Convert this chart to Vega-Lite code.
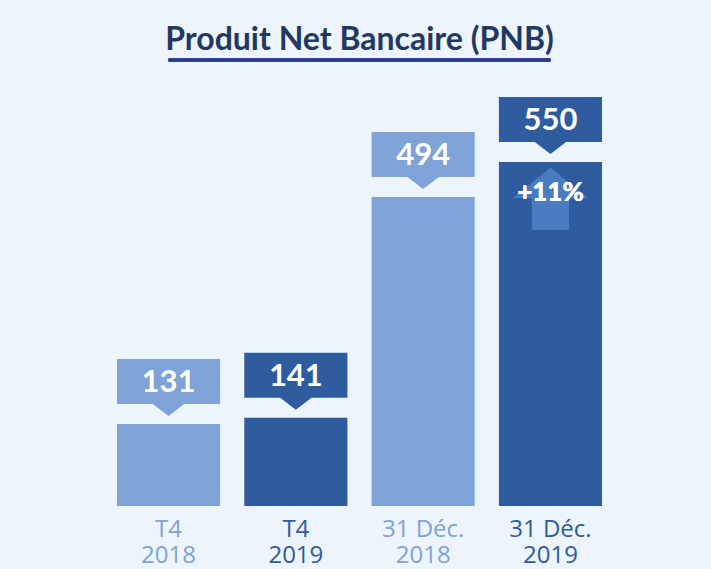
{
  "$schema": "https://vega.github.io/schema/vega-lite/v6.json",
  "width": 485,
  "height": 446,
  "autosize": "none",
  "padding": {"left": 117, "top": 60, "right": 109, "bottom": 63},
  "background": "#EDF4FB",
  "config": {"view": {"stroke": null}},
  "title": {
    "text": "Produit Net Bancaire (PNB)",
    "font": "Lato",
    "fontSize": 32,
    "fontWeight": "bold",
    "color": "#1F3864",
    "anchor": "middle",
    "baseline": "alphabetic",
    "offset": 10,
    "dy": 33
  },
  "data": {
    "values": [
      {"period": "T4 2018", "year": "2018", "value": 131},
      {"period": "T4 2019", "year": "2019", "value": 141},
      {"period": "31 Déc. 2018", "year": "2018", "value": 494},
      {"period": "31 Déc. 2019", "year": "2019", "value": 550}
    ]
  },
  "encoding": {
    "x": {
      "field": "period",
      "type": "nominal",
      "sort": null,
      "scale": {"paddingInner": 0.19, "paddingOuter": 0},
      "axis": {
        "title": null,
        "domain": false,
        "ticks": false,
        "labelAngle": 0,
        "labelFont": "Open Sans",
        "labelFontSize": 24,
        "labelLineHeight": 26,
        "labelPadding": 11,
        "labelExpr": "[substring(datum.label, 0, length(datum.label) - 5), substring(datum.label, length(datum.label) - 4)]",
        "labelColor": {"condition": {"test": "indexof(datum.value, '2018') >= 0", "value": "#7FA3D6"}, "value": "#2E5C9E"}
      }
    }
  },
  "layer": [
    {
      "mark": {"type": "bar"},
      "encoding": {
        "y": {"field": "value", "type": "quantitative", "scale": {"domain": [0, 713], "nice": false}, "axis": null},
        "color": {"field": "year", "type": "nominal", "scale": {"domain": ["2018", "2019"], "range": ["#7FA3D6", "#2E5C9E"]}, "legend": null}
      }
    },
    {
      "mark": {"type": "bar", "yOffset": -65, "y2Offset": -20},
      "encoding": {
        "y": {"field": "value", "type": "quantitative"},
        "y2": {"field": "value"},
        "color": {"field": "year", "type": "nominal", "legend": null}
      }
    },
    {
      "mark": {"type": "point", "filled": true, "opacity": 1, "size": 1296, "shape": "M-1,-0.1L1,-0.1L0,0.67Z", "yOffset": -20, "strokeWidth": 0},
      "encoding": {
        "y": {"field": "value", "type": "quantitative"},
        "color": {"field": "year", "type": "nominal", "legend": null}
      }
    },
    {
      "mark": {"type": "text", "font": "Lato", "fontSize": 31, "fontWeight": "bold", "color": "white", "baseline": "middle", "yOffset": -41},
      "encoding": {
        "y": {"field": "value", "type": "quantitative"},
        "text": {"field": "value", "type": "quantitative"}
      }
    },
    {
      "mark": {"type": "point", "filled": true, "opacity": 1, "size": 5476, "shape": "M0,0L1,0.81L0.5,0.81L0.5,1.68L-0.5,1.68L-0.5,0.81L-1,0.81Z", "yOffset": 6, "color": "#4A7DC0", "strokeWidth": 0},
      "encoding": {
        "x": {"datum": "31 Déc. 2019"},
        "y": {"datum": 550, "type": "quantitative"}
      }
    },
    {
      "mark": {"type": "text", "font": "Lato", "fontSize": 26, "fontWeight": "bold", "color": "white", "baseline": "middle", "yOffset": 31},
      "encoding": {
        "x": {"datum": "31 Déc. 2019"},
        "y": {"datum": 550, "type": "quantitative"},
        "text": {"value": "+11%"}
      }
    },
    {
      "mark": {"type": "rule", "color": "#2B3990", "strokeWidth": 3},
      "encoding": {
        "x": {"datum": "T4 2018"},
        "x2": {"datum": "31 Déc. 2019"},
        "y": {"datum": 713, "type": "quantitative"}
      }
    }
  ]
}
